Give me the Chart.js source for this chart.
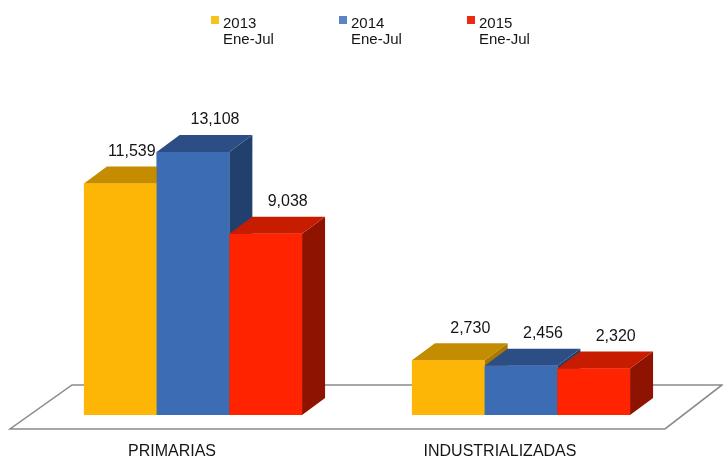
<!DOCTYPE html>
<html>
<head>
<meta charset="utf-8">
<script src="https://cdn.jsdelivr.net/npm/chart.js@4.4.1/dist/chart.umd.min.js"></script>
<style>
html,body{margin:0;padding:0;background:#fff}
#wrap{width:723px;height:457px}
</style>
</head>
<body>
<div id="wrap"><canvas id="c" width="723" height="457"></canvas></div>
<script>
"use strict"

// data
var categories = ['PRIMARIAS', 'INDUSTRIALIZADAS']
var seriesNames = [['2013', 'Ene-Jul'], ['2014', 'Ene-Jul'], ['2015', 'Ene-Jul']]
var values2013 = [11539, 2730]
var values2014 = [13108, 2456]
var values2015 = [9038, 2320]

var frontColors = ['#FDB605', '#3C6CB4', '#FF2300']
var topColors = ['#C48C00', '#2C4E84', '#C81C00']
var sideColors = ['#A87800', '#22406E', '#8E1300']
var legendColors = ['#F8C21C', '#5A84C6', '#EC2A12']

var DX = 23, DY = 17

var fmt = function(v){ return v.toLocaleString('en-US') }

// floor + 3d bars, drawn left to right so the later bar hides the earlier side
var threeD = {
	id: 'threeD',
	beforeDatasetsDraw: function(chart){
		var ctx = chart.ctx, a = chart.chartArea
		var y0 = chart.scales.y.getPixelForValue(0)
		var back = y0 - 30, front = y0 + 14
		ctx.save()
		ctx.beginPath()
		ctx.moveTo(a.left + 43, back)
		ctx.lineTo(a.right + 37, back)
		ctx.lineTo(a.right - 20, front)
		ctx.lineTo(a.left - 19, front)
		ctx.closePath()
		ctx.fillStyle = '#fff'
		ctx.fill()
		ctx.strokeStyle = '#8a8a8a'
		ctx.lineWidth = 1.5
		ctx.stroke()
		ctx.restore()
	},
	afterDatasetsDraw: function(chart){
		var ctx = chart.ctx
		var n = chart.data.datasets.length
		ctx.save()
		chart.data.datasets.forEach(function(ds, i){
			chart.getDatasetMeta(i).data.forEach(function(bar){
				var p = bar.getProps(['x', 'y', 'base', 'width'], true)
				var l = p.x - p.width / 2, r = p.x + p.width / 2
				// side
				ctx.beginPath()
				ctx.moveTo(r, p.y)
				ctx.lineTo(r + DX, p.y - DY)
				ctx.lineTo(r + DX, p.base - DY)
				ctx.lineTo(r, p.base)
				ctx.closePath()
				ctx.fillStyle = sideColors[i]
				ctx.fill()
				// top
				ctx.beginPath()
				ctx.moveTo(l, p.y)
				ctx.lineTo(l + DX, p.y - DY)
				ctx.lineTo(r + DX, p.y - DY)
				ctx.lineTo(r, p.y)
				ctx.closePath()
				ctx.fillStyle = topColors[i]
				ctx.fill()
				bar.draw(ctx)
			})
		})
		// value labels, pushed left when the next bar is in the way
		ctx.font = '16px "Liberation Sans", Arial, sans-serif'
		ctx.fillStyle = '#151515'
		ctx.textAlign = 'center'
		ctx.textBaseline = 'middle'
		chart.data.datasets.forEach(function(ds, i){
			chart.getDatasetMeta(i).data.forEach(function(bar, j){
				var txt = fmt(ds.data[j])
				var w = ctx.measureText(txt).width
				var x = bar.x + 22, y = bar.y - DY - 15
				if (i < n - 1){
					var nb = chart.getDatasetMeta(i + 1).data[j]
					if (nb.y - DY < y + 8) x = Math.min(x, nb.x - nb.width / 2 - 1 - w / 2)
				}
				ctx.fillText(txt, x, y)
			})
		})
		ctx.restore()
	}
}

// legend with two-line labels
var legend2 = {
	id: 'legend2',
	afterDraw: function(chart){
		var ctx = chart.ctx
		ctx.save()
		ctx.font = '15px "Liberation Sans", Arial, sans-serif'
		ctx.textBaseline = 'alphabetic'
		ctx.textAlign = 'left'
		chart.data.datasets.forEach(function(ds, i){
			var x = 211 + i * 128
			ctx.fillStyle = legendColors[i]
			ctx.fillRect(x, 16, 8, 8)
			ctx.fillStyle = '#151515'
			ds.label.forEach(function(line, k){
				ctx.fillText(line, x + 12, 27.5 + k * 16.5)
			})
		})
		ctx.restore()
	}
}

new Chart(document.getElementById('c'), {
	type: 'bar',
	data: {
		labels: categories,
		datasets: [
			{label: seriesNames[0], data: values2013, backgroundColor: frontColors[0]},
			{label: seriesNames[1], data: values2014, backgroundColor: frontColors[1]},
			{label: seriesNames[2], data: values2015, backgroundColor: frontColors[2]}
		]
	},
	options: {
		responsive: false,
		animation: false,
		layout: {padding: {top: 94, left: 29, right: 38, bottom: 0}},
		datasets: {bar: {categoryPercentage: 0.665, barPercentage: 1}},
		plugins: {legend: {display: false}, tooltip: {enabled: false}},
		scales: {
			y: {display: false, min: -750, max: 16000},
			x: {
				grid: {display: false, drawTicks: false},
				border: {display: false},
				afterFit: function(s){ s.height = 27 },
				ticks: {
					padding: 14,
					labelOffset: -21,
					color: '#151515',
					font: {family: '"Liberation Sans", Arial, sans-serif', size: 16, lineHeight: 1}
				}
			}
		}
	},
	plugins: [threeD, legend2]
})
</script>
</body>
</html>
